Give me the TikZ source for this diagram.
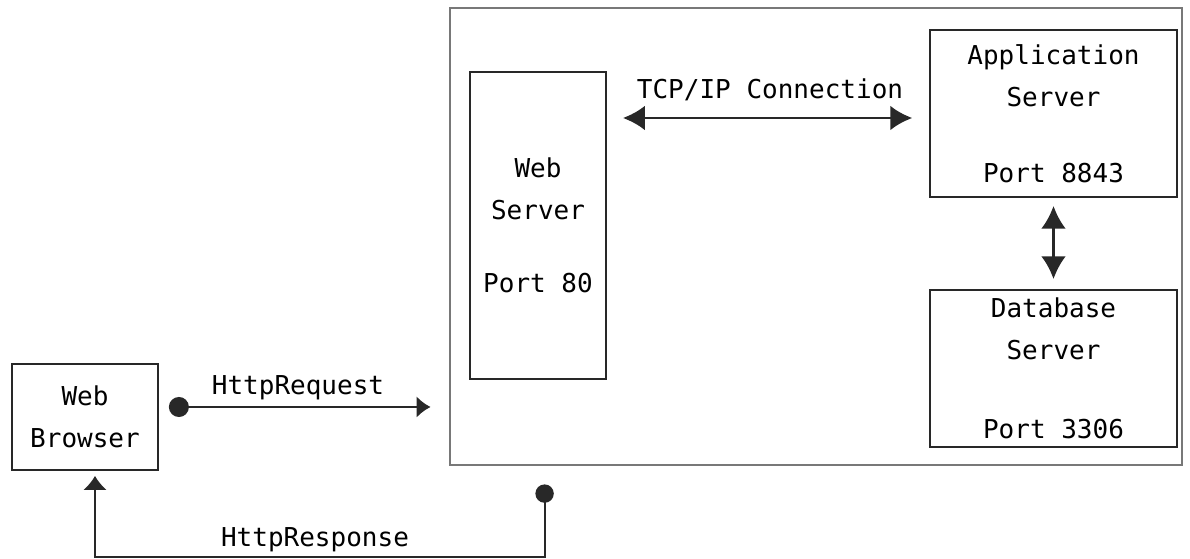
\documentclass[tikz,border=0pt]{standalone}
\usepackage{fontspec}
\setmonofont{DejaVu Sans Mono}
\usepackage{tikz}
\usetikzlibrary{arrows.meta}
\tikzset{>=latex}
\definecolor{mygray1}{RGB}{120, 120, 120}
\definecolor{mygray2}{RGB}{40, 40, 40}
\tikzset{box/.style = {draw = mygray2, line width = 1.3pt, align = center, inner sep = 0pt,
  font = \ttfamily\fontsize{18.5}{30}\selectfont},
  link/.style = {line width = 2pt, color = mygray2},
  lbl/.style = {font = \ttfamily\fontsize{18.5}{30}\selectfont, anchor = base}}

\begin{document}
\begin{tikzpicture}
\useasboundingbox (0,0) rectangle (29.75,13.975);
\node [box, draw = mygray1, line width = 2pt, minimum width = 18.3cm, minimum height = 11.425cm] (outer) at (20.4, 8.0625) {};
\node [box, minimum width = 3.65cm, minimum height = 2.65cm] (browser) at (2.125, 3.55) {Web\\Browser};
\node [box, minimum width = 3.4cm, minimum height = 7.675cm] (web) at (13.45, 8.3375) {Web\\Server\\[22pt]Port 80};
\node [box, minimum width = 6.175cm, minimum height = 4.175cm] (app) at (26.3375, 11.1375) {Application\\Server\\[24pt]Port 8843};
\node [box, minimum width = 6.175cm, minimum height = 3.925cm] (db) at (26.3375, 4.7625) {Database\\Server\\[26pt]Port 3306};
% connectors
\draw [link, {Latex[length=0.55cm, width=0.62cm]}-{Latex[length=0.55cm, width=0.62cm]}, shorten <= 0.4cm, shorten >= 0.42cm]
  ([yshift=-0.1125cm]web.east |- app.west) -- ([yshift=-0.1125cm]app.west);
\draw [link, {Latex[length=0.57cm, width=0.62cm]}-{Latex[length=0.57cm, width=0.62cm]}, shorten <= 0.2cm, shorten >= 0.25cm]
  (app.south) -- (db.north);
\draw [link, {Circle[length=0.5cm]}-{Latex[length=0.35cm, width=0.55cm]}, shorten <= 0.25cm, shorten >= 0.45cm]
  ([yshift=0.25cm]browser.east) -- ([yshift=0.25cm]browser.east -| outer.west);
\coordinate (low) at (0, 0.05);
\draw [link, line width = 1.5pt, {Circle[length=0.46cm]}-{Latex[length=0.35cm, width=0.6cm]}, shorten <= 0.45cm, shorten >= 0.125cm]
  ([xshift=2.4cm]outer.south west) -- ([xshift=2.4cm]outer.south west |- low) -| ([xshift=0.25cm]browser.south);
\node [lbl] (req) at (7.45, 4.1) {HttpRequest};
\node [lbl] (resp) at (7.875, 0.3) {HttpResponse};
\node [lbl] (tcp) at (19.25, 11.5) {TCP/IP Connection};
\end{tikzpicture}
\end{document}
